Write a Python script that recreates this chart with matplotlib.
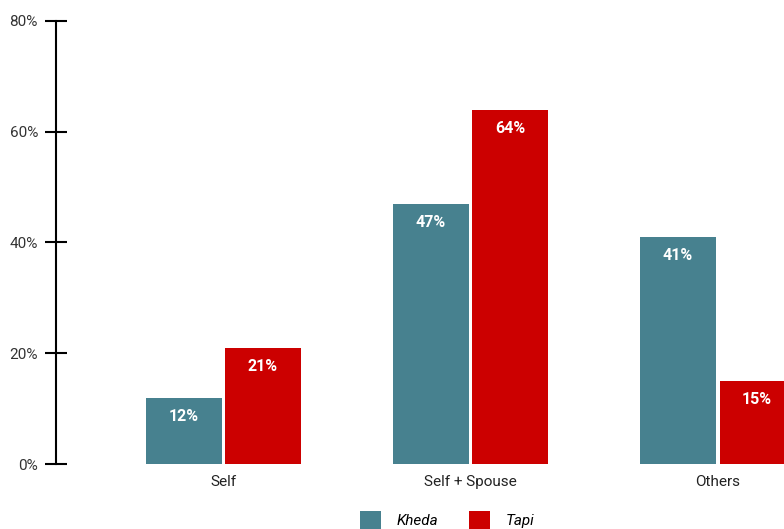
import numpy as np
import matplotlib.pyplot as plt
from matplotlib.patches import Patch

categorias = ["Self", "Self + Spouse", "Others"]
kheda = [12, 47, 41]
tapi = [21, 64, 15]
series = ["Kheda", "Tapi"]
cores = ["#47818f", "#cc0000"]

plt.rcParams['font.family'] = ['Roboto', 'DejaVu Sans']

fig = plt.figure(figsize=(7.84, 5.29), dpi=100)
ax = fig.add_axes([56 / 784, 1 - 464 / 529, 1 - 56 / 784, (464 - 21) / 529])

x = np.arange(len(categorias))
largura = 0.304
desloc = 0.16

b1 = ax.bar(x - desloc, kheda, largura, color=cores[0])
b2 = ax.bar(x + desloc, tapi, largura, color=cores[1])

# rótulos brancos dentro do topo das barras
for barras, valores in ((b1, kheda), (b2, tapi)):
    for b, v in zip(barras, valores):
        ax.annotate(f"{v}%", (b.get_x() + b.get_width() / 2, v),
                    xytext=(0, -13.5), textcoords='offset points',
                    ha='center', va='center', color='white',
                    fontsize=11.5, fontweight='bold')

ax.set_xlim(-0.678, 2.269)
ax.set_ylim(0, 80)
ax.set_yticks([0, 20, 40, 60, 80])
ax.set_yticklabels([f"{v}%" for v in [0, 20, 40, 60, 80]])
ax.set_xticks(x)
ax.set_xticklabels(categorias)

for lado in ['top', 'right', 'bottom']:
    ax.spines[lado].set_visible(False)
ax.spines['left'].set_linewidth(1.5)
ax.tick_params(axis='y', direction='inout', length=16, width=1.5,
               labelsize=11, labelcolor='#333333', pad=5)
ax.tick_params(axis='x', length=0, labelsize=11, labelcolor='#222222', pad=8)

handles = [Patch(facecolor=c, label=s) for c, s in zip(cores, series)]
fig.legend(handles=handles, loc='center', bbox_to_anchor=(0.57, 1 - 520 / 529),
           ncol=2, frameon=False, handlelength=1.4, handleheight=1.4,
           handletextpad=1.0, columnspacing=2.0,
           prop={'style': 'italic', 'size': 11})

fig.savefig("out.png", dpi=100)
